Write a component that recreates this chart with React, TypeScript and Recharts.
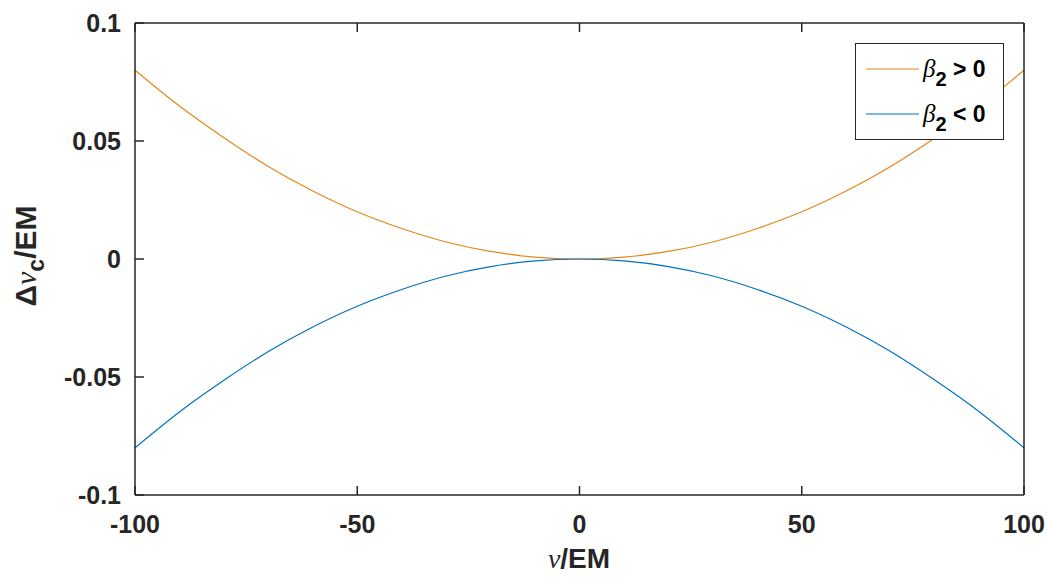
import { LineChart, Line, XAxis, YAxis } from "recharts";

const xs = [-100, -90, -80, -70, -60, -50, -40, -30, -20, -10, 0, 10, 20, 30, 40, 50, 60, 70, 80, 90, 100];
const betaPos = [0.08, 0.0648, 0.0514, 0.0392, 0.0288, 0.02, 0.0129, 0.0072, 0.0032, 0.0008, 0, 0.0008, 0.0032, 0.0072, 0.0129, 0.02, 0.0288, 0.0392, 0.0514, 0.0648, 0.08];
const betaNeg = [-0.08, -0.0648, -0.0514, -0.0392, -0.0288, -0.02, -0.0129, -0.0072, -0.0032, -0.0008, 0, -0.0008, -0.0032, -0.0072, -0.0129, -0.02, -0.0288, -0.0392, -0.0514, -0.0648, -0.08];
const xTicks = [-100, -50, 0, 50, 100];
const yTicks = [-0.1, -0.05, 0, 0.05, 0.1];

const data = xs.map((x, i) => ({ x, pos: betaPos[i], neg: betaNeg[i] }));

const ORANGE = "#E3881B";
const BLUE = "#0072BD";
const AX = "#262626";
const SANS = "'Liberation Sans', Arial, Helvetica, sans-serif";
const SERIF = "'Liberation Serif', 'Times New Roman', serif";

const tickStyle = { fill: AX, fontSize: 25, fontWeight: 700, fontFamily: SANS };

function LegendBox() {
  const rows = [
    { c: ORANGE, op: ">", y: 26 },
    { c: BLUE, op: "<", y: 71 },
  ];
  return (
    <svg width={149} height={97} style={{ position: "absolute", left: 855, top: 43 }}>
      <rect x={0.5} y={0.5} width={148} height={96} fill="#fff" stroke={AX} strokeWidth={1} />
      {rows.map((r) => (
        <g key={r.op}>
          <line x1={11} x2={64} y1={r.y} y2={r.y} stroke={r.c} strokeWidth={1.2} />
          <text x={68} y={r.y + 8} fill="#000" fontSize={25}>
            <tspan fontFamily={SERIF} fontStyle="italic">β</tspan>
            <tspan fontFamily={SANS} fontWeight={700} fontSize={20} dy={9}>2</tspan>
            <tspan fontFamily={SANS} fontWeight={700} fontSize={23} dy={-9}> {r.op} 0</tspan>
          </text>
        </g>
      ))}
    </svg>
  );
}

export default function App() {
  return (
    <div style={{ position: "absolute", left: 0, top: 0, width: 1047, height: 577, background: "#fff" }}>
      <LineChart width={1047} height={577} data={data} margin={{ top: 22, right: 22, left: 35, bottom: 12 }}>
        <XAxis
          xAxisId="b"
          dataKey="x"
          type="number"
          domain={[-100, 100]}
          ticks={xTicks}
          height={70}
          stroke={AX}
          strokeWidth={1.5}
          tickSize={-9}
          tickMargin={29}
          tick={tickStyle}
          label={{
            content: () => (
              <text x={579} y={568} textAnchor="middle" fill={AX} fontSize={28}>
                <tspan fontFamily={SERIF} fontStyle="italic">ν</tspan>
                <tspan fontFamily={SANS} fontWeight={700}>/EM</tspan>
              </text>
            ),
          }}
        />
        <XAxis
          xAxisId="t"
          dataKey="x"
          type="number"
          orientation="top"
          domain={[-100, 100]}
          ticks={xTicks}
          height={1}
          stroke={AX}
          strokeWidth={1.5}
          tickSize={-9}
          tickFormatter={() => ""}
        />
        <YAxis
          yAxisId="l"
          type="number"
          domain={[-0.1, 0.1]}
          ticks={yTicks}
          width={100}
          stroke={AX}
          strokeWidth={1.5}
          tickSize={-9}
          tickMargin={23}
          tick={tickStyle}
          label={{
            content: () => (
              <text transform="translate(36 256) rotate(-90)" textAnchor="middle" fill={AX} fontSize={30}>
                <tspan fontFamily={SANS} fontWeight={700}>Δ</tspan>
                <tspan fontFamily={SERIF} fontStyle="italic">ν</tspan>
                <tspan fontFamily={SANS} fontWeight={700} fontSize={23} dy={8}>c</tspan>
                <tspan fontFamily={SANS} fontWeight={700} dy={-8}>/EM</tspan>
              </text>
            ),
          }}
        />
        <YAxis
          yAxisId="r"
          type="number"
          orientation="right"
          domain={[-0.1, 0.1]}
          ticks={yTicks}
          width={1}
          stroke={AX}
          strokeWidth={1.5}
          tickSize={-9}
          tickFormatter={() => ""}
        />
        <Line xAxisId="b" yAxisId="l" dataKey="pos" name="β2 > 0" type="natural" stroke={ORANGE} strokeWidth={1.2} dot={false} isAnimationActive={false} />
        <Line xAxisId="b" yAxisId="l" dataKey="neg" name="β2 < 0" type="natural" stroke={BLUE} strokeWidth={1.2} dot={false} isAnimationActive={false} />
      </LineChart>
      <LegendBox />
    </div>
  );
}
